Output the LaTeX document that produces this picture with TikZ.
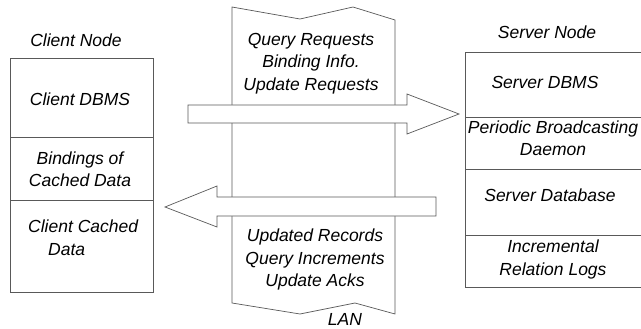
\documentclass[tikz,border=0pt]{standalone}
\usepackage{fontspec}
\setmainfont{Liberation Sans}
\begin{document}
\begin{tikzpicture}[x=1pt,y=-1pt,
  ln/.style={draw=black!65,line width=0.7pt,line join=miter},
  lbl/.style={font=\fontsize{17.5}{22.5}\selectfont\itshape,align=center,inner sep=0pt,text=black},
  lbll/.style={font=\fontsize{17.5}{22.5}\selectfont\itshape,align=left,inner sep=0pt,text=black}]
\useasboundingbox (0,0) rectangle (641,329);
% Client node
\draw[ln] (10,58) rectangle (153,292);
\draw[ln] (10,137) -- (153,137);
\draw[ln] (10,200) -- (153,200);
\node[lbl] (cn) at (76,40) {Client Node};
\node[lbl] (cdbms) at (80,99) {Client DBMS};
\node[lbl] (bind) at (80,169) {Bindings of\\Cached Data};
\node[lbll,anchor=north west] (ccd) at (28,220) {Client Cached\\\hspace{20pt}Data};
% Server node
\draw[ln] (645,52) -- (465,52) -- (465,287) -- (645,287);
\draw[ln] (465,117) -- (645,117);
\draw[ln] (465,169) -- (645,169);
\draw[ln] (465,235) -- (645,235);
\node[lbl] (sn) at (547,32) {Server Node};
\node[lbl] (sdbms) at (545,82) {Server DBMS};
\node[lbl] (pbd) at (553,138) {Periodic Broadcasting\\Daemon};
\node[lbl] (sdb) at (550,195) {Server Database};
\node[lbl] (irl) at (553,259.5) {Incremental\\Relation Logs};
% LAN column
\draw[ln,fill=white] (232,7) -- (300,19) -- (353,7) -- (395,20) -- (395,314)
  -- (355,303) -- (300,314) -- (232,303) -- cycle;
\node[lbl] (req) at (311,63.5) {Query Requests\\Binding Info.\\Update Requests};
\node[lbl] (resp) at (315,259.5) {Updated Records\\Query Increments\\Update Acks};
\node[lbl] (lan) at (345,319.5) {LAN};
% Arrows
\draw[ln,fill=white] (188,105) -- (407,105) -- (407,94) -- (459,114) -- (407,134)
  -- (407,123) -- (188,123) -- cycle;
\draw[ln,fill=white] (436,197) -- (217,197) -- (217,186) -- (165,207) -- (217,227)
  -- (217,216) -- (436,216) -- cycle;
\end{tikzpicture}
\end{document}
